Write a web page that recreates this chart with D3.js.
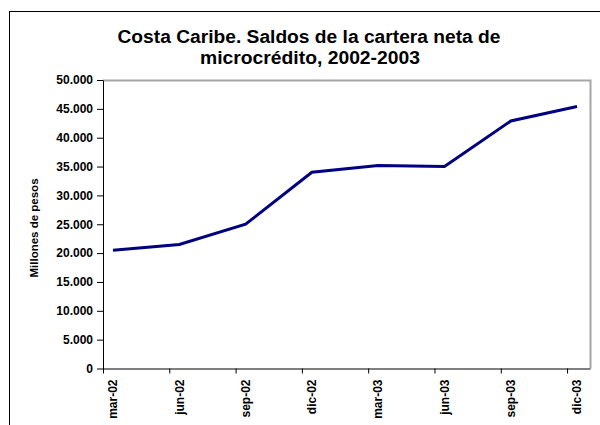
<!DOCTYPE html>
<html lang="es">
<head>
    <meta charset="UTF-8">
    <title>Costa Caribe - microcrédito</title>
    <script src="https://d3js.org/d3.v7.min.js"></script>
    <style>
        body { margin: 0; background: #fff; }
        text { font-family: "Liberation Sans", Arial, sans-serif; font-weight: bold; fill: #000; }
    </style>
</head>
<body>
    <script>
        const periods = ['mar-02', 'jun-02', 'sep-02', 'dic-02', 'mar-03', 'jun-03', 'sep-03', 'dic-03'];
        const saldos = [20500, 21500, 25000, 34000, 35200, 35000, 42900, 45400];
        const yTicks = [0, 5000, 10000, 15000, 20000, 25000, 30000, 35000, 40000, 45000, 50000];

        const W = 600, H = 425;
        const plot = { left: 103, right: 590, top: 80, bottom: 368.5 };

        const svg = d3.select("body").append("svg")
            .attr("width", W)
            .attr("height", H);

        // outer chart frame (runs off the right and bottom edges)
        svg.append("rect")
            .attr("x", 9.5).attr("y", 11.5)
            .attr("width", 620).attr("height", 450)
            .attr("fill", "none")
            .attr("stroke", "#000")
            .attr("stroke-width", 1);

        // title - the original is drawn a little wider than Arial, so stretch it
        const title = svg.append("text")
            .attr("text-anchor", "middle")
            .style("font-size", "18px");
        title.append("tspan").attr("x", 309).attr("y", 43)
            .attr("textLength", 383).attr("lengthAdjust", "spacingAndGlyphs")
            .text("Costa Caribe. Saldos de la cartera neta de");
        title.append("tspan").attr("x", 310).attr("y", 64)
            .attr("textLength", 220).attr("lengthAdjust", "spacingAndGlyphs")
            .text("microcrédito, 2002-2003");

        // x is a date-like axis: points sit a bit right of each tick
        const x = d3.scaleLinear()
            .domain([-0.151, 7.195])
            .range([plot.left, plot.right]);

        const y = d3.scaleLinear()
            .domain([0, 50000])
            .range([plot.bottom, plot.top]);

        // plot area border (gray top/right)
        svg.append("path")
            .attr("d", `M${plot.left},${plot.top + 0.5}H${plot.right + 0.5}V${plot.bottom}`)
            .attr("fill", "none")
            .attr("stroke", "#a6a6a6")
            .attr("stroke-width", 2);

        const fmt = d => d === 0 ? "0" : d3.format(",")(d).replace(/,/g, ".");

        const yAxis = svg.append("g")
            .attr("transform", `translate(${plot.left},0)`)
            .call(d3.axisLeft(y).tickValues(yTicks).tickFormat(fmt).tickSize(6).tickSizeOuter(0).tickPadding(4));
        yAxis.selectAll("text").style("font-size", "12px");

        // x ticks
        svg.append("g")
            .attr("transform", `translate(0,${plot.bottom})`)
            .call(d3.axisBottom(x).tickValues(d3.range(periods.length).map(i => i - 0.151)).tickFormat("").tickSize(5).tickSizeOuter(0));

        // x labels
        svg.append("g")
            .selectAll("text")
            .data(periods)
            .join("text")
            .attr("transform", (d, i) => `translate(${x(i)},${plot.bottom + 11}) rotate(-90)`)
            .attr("text-anchor", "end")
            .attr("dy", "0.35em")
            .style("font-size", "12px")
            .text(d => d);

        svg.selectAll(".domain").attr("stroke", "#000");
        svg.selectAll(".tick line").attr("stroke", "#000");

        // y axis title
        svg.append("text")
            .attr("transform", `translate(34,228) rotate(-90)`)
            .attr("text-anchor", "middle")
            .attr("dy", "0.35em")
            .style("font-size", "11.5px")
            .text("Millones de pesos");

        const line = d3.line()
            .x((d, i) => x(i))
            .y(d => y(d));

        svg.append("path")
            .datum(saldos)
            .attr("d", line)
            .attr("fill", "none")
            .attr("stroke", "#000080")
            .attr("stroke-width", 3)
            .attr("stroke-linejoin", "miter");
    </script>
</body>
</html>
